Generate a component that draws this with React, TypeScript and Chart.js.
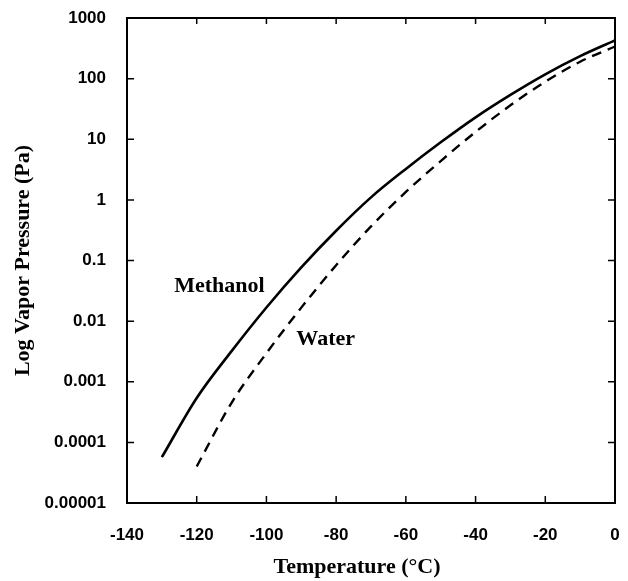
import React, { useEffect, useRef } from "react";
import { Chart, registerables } from "chart.js";

Chart.register(...registerables);

// ---- data ----
const methanolTemps = [-130, -120, -110, -100, -90, -80, -70, -60, -50, -40, -30, -20, -10, 0];
const methanolValues = [5.7e-5, 5.4e-4, 3.2e-3, 0.0168, 0.077, 0.31, 1.1, 3.24, 8.9, 23, 54, 118, 235, 428];
const waterTemps = [-120, -110, -100, -90, -80, -70, -60, -50, -40, -30, -20, -10, 0];
const waterValues = [4e-5, 4.5e-4, 0.00296, 0.0167, 0.0836, 0.365, 1.35, 4.37, 13.2, 36.3, 89, 190, 339];

const yTickValues = [0.00001, 0.0001, 0.001, 0.01, 0.1, 1, 10, 100, 1000];
const yTickLabels = ["0.00001", "0.0001", "0.001", "0.01", "0.1", "1", "10", "100", "1000"];
const xTickValues = [-140, -120, -100, -80, -60, -40, -20, 0];

const curveLabels = ["Methanol", "Water"];
const curveLabelTemps = [-113.5, -83];
const curveLabelValues = [0.038, 0.005];

const xTitle = "Temperature (°C)";
const yTitle = "Log Vapor Pressure (Pa)";

const SERIF = "'Liberation Serif', 'Times New Roman', serif";
const SANS = "'Liberation Sans', Arial, sans-serif";

const framePlugin = {
  id: "frameAndInnerTicks",
  afterDraw(chart: any) {
    const { ctx, chartArea } = chart;
    const { left, right, top, bottom } = chartArea;
    const xs = chart.scales.x;
    const ys = chart.scales.y;
    ctx.save();
    ctx.strokeStyle = "#000";
    ctx.lineWidth = 2;
    ctx.strokeRect(left, top, right - left, bottom - top);
    ctx.lineWidth = 1.5;
    ctx.beginPath();
    xs.ticks.forEach((t: any) => {
      const px = xs.getPixelForValue(t.value);
      ctx.moveTo(px, bottom);
      ctx.lineTo(px, bottom - 7);
      ctx.moveTo(px, top);
      ctx.lineTo(px, top + 6);
    });
    ys.ticks.forEach((t: any) => {
      const py = ys.getPixelForValue(t.value);
      ctx.moveTo(left, py);
      ctx.lineTo(left + 7, py);
      ctx.moveTo(right, py);
      ctx.lineTo(right - 7, py);
    });
    ctx.stroke();

    ctx.fillStyle = "#000";
    ctx.font = `bold 22px ${SERIF}`;
    ctx.textAlign = "center";
    ctx.textBaseline = "middle";
    curveLabels.forEach((txt, i) => {
      ctx.fillText(
        txt,
        xs.getPixelForValue(curveLabelTemps[i]),
        ys.getPixelForValue(curveLabelValues[i])
      );
    });

    // x-axis title (slightly left of the plot centre, as in the original)
    ctx.fillText(xTitle, (left + right) / 2 - 14, 567);
    ctx.restore();
  },
};

export default function App() {
  const canvasRef = useRef<HTMLCanvasElement | null>(null);

  useEffect(() => {
    const canvas = canvasRef.current;
    if (!canvas) return;
    const chart = new Chart(canvas, {
      type: "line",
      data: {
        datasets: [
          {
            label: "Methanol",
            data: methanolTemps.map((t, i) => ({ x: t, y: methanolValues[i] })),
            borderColor: "#000",
            borderWidth: 2.6,
            pointRadius: 0,
            fill: false,
            cubicInterpolationMode: "monotone",
          },
          {
            label: "Water",
            data: waterTemps.map((t, i) => ({ x: t, y: waterValues[i] })),
            borderColor: "#000",
            borderWidth: 2.4,
            borderDash: [10, 7],
            pointRadius: 0,
            fill: false,
            cubicInterpolationMode: "monotone",
          },
        ],
      },
      options: {
        animation: false,
        responsive: false,
        maintainAspectRatio: false,
        layout: { padding: { left: 0, top: 18, right: 13, bottom: 0 } },
        plugins: {
          legend: { display: false },
          tooltip: { enabled: false },
        },
        scales: {
          x: {
            type: "linear",
            min: -140,
            max: 0,
            afterBuildTicks: (scale: any) => {
              scale.ticks = xTickValues.map((v) => ({ value: v }));
            },
            afterFit: (scale: any) => {
              scale.height = 78;
              scale.paddingLeft = 0;
              scale.paddingRight = 0;
            },
            grid: { display: false, drawTicks: false },
            border: { display: false },
            ticks: {
              color: "#000",
              font: { family: SANS, size: 17, weight: "bold" },
              padding: 22,
              maxRotation: 0,
              callback: (v: any) => String(v),
            },
            title: { display: false, text: xTitle },
          },
          y: {
            type: "logarithmic",
            min: 0.00001,
            max: 1000,
            afterBuildTicks: (scale: any) => {
              scale.ticks = yTickValues.map((v) => ({ value: v }));
            },
            afterFit: (scale: any) => {
              scale.width = 127;
              scale.paddingTop = 0;
              scale.paddingBottom = 0;
            },
            grid: { display: false, drawTicks: false },
            border: { display: false },
            ticks: {
              color: "#000",
              font: { family: SANS, size: 17, weight: "bold" },
              padding: 21,
              autoSkip: false,
              callback: (v: any) => {
                const i = yTickValues.findIndex((t) => Math.abs(Math.log10(t) - Math.log10(v)) < 1e-6);
                return i >= 0 ? yTickLabels[i] : "";
              },
            },
            title: {
              display: true,
              text: yTitle,
              color: "#000",
              font: { family: SERIF, size: 22, weight: "bold" },
              padding: { top: 10, bottom: 0 },
            },
          },
        },
      },
      plugins: [framePlugin],
    } as any);
    return () => chart.destroy();
  }, []);

  return (
    <div style={{ position: "fixed", left: 0, top: 0, width: 628, height: 581, background: "#fff" }}>
      <canvas ref={canvasRef} width={628} height={581} style={{ display: "block" }} />
    </div>
  );
}
